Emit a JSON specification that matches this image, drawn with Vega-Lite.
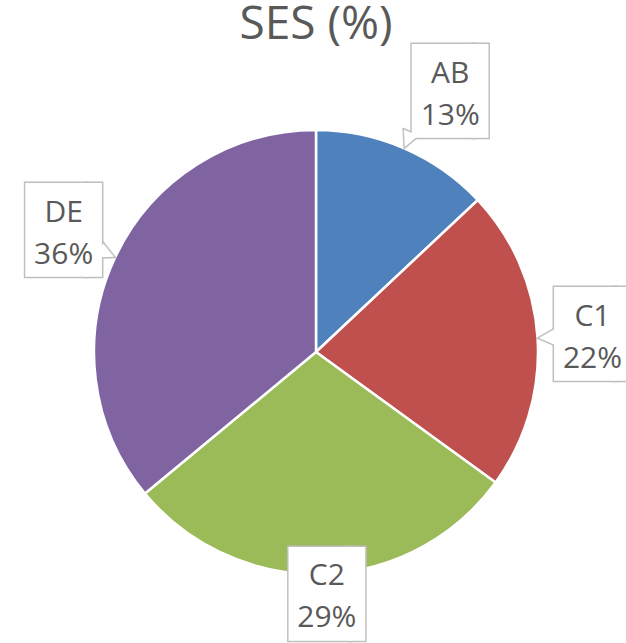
{
  "$schema": "https://vega.github.io/schema/vega-lite/v6.json",
  "width": 632,
  "height": 584,
  "autosize": {"type": "none"},
  "padding": {"top": 60, "left": 0, "right": 0, "bottom": 0},
  "background": "white",
  "title": {
    "text": "SES (%)",
    "font": "Open Sans",
    "fontSize": 46,
    "fontWeight": "normal",
    "color": "#595959",
    "anchor": "middle",
    "baseline": "alphabetic",
    "limit": 0,
    "offset": -30
  },
  "data": {
    "values": [
      {"SES": "AB", "share": 0.13},
      {"SES": "C1", "share": 0.22},
      {"SES": "C2", "share": 0.29},
      {"SES": "DE", "share": 0.36}
    ]
  },
  "encoding": {
    "theta": {"field": "share", "type": "quantitative", "stack": true},
    "order": {"field": "SES", "type": "ordinal", "sort": "ascending"}
  },
  "layer": [
    {
      "mark": {"type": "arc", "outerRadius": 222, "stroke": "white", "strokeWidth": 2.5},
      "encoding": {
        "color": {
          "field": "SES",
          "type": "nominal",
          "scale": {"domain": ["AB", "C1", "C2", "DE"], "range": ["#4F81BD", "#C0504D", "#9BBB59", "#8064A2"]},
          "legend": null
        }
      }
    },
    {
      "mark": {
        "type": "text",
        "radius": 280,
        "font": "DejaVu Sans",
        "fontSize": 79,
        "fill": "white",
        "stroke": "#BFBFBF",
        "strokeWidth": 3,
        "align": "center",
        "baseline": "middle",
        "dx": {"expr": "(datum.SES === 'AB' ? 23 : datum.SES === 'C1' ? -3 : datum.SES === 'C2' ? 2 : 1) + 23.4"},
        "dy": {"expr": "(datum.SES === 'AB' ? -4 : datum.SES === 'C1' ? 0 : datum.SES === 'C2' ? -38 : -2) + 2.7"}
      },
      "encoding": {"text": {"value": "█▎"}}
    },
    {
      "mark": {
        "type": "text",
        "radius": 226,
        "font": "DejaVu Sans",
        "fontSize": 20,
        "fill": "white",
        "stroke": "#BFBFBF",
        "strokeWidth": 3,
        "align": "center",
        "baseline": "alphabetic",
        "angle": {"expr": "180 * (datum.share_start + datum.share_end)"}
      },
      "encoding": {"text": {"value": "▼"}}
    },
    {
      "mark": {
        "type": "text",
        "radius": 280,
        "font": "DejaVu Sans",
        "fontSize": 79,
        "fill": "white",
        "align": "center",
        "baseline": "middle",
        "dx": {"expr": "(datum.SES === 'AB' ? 23 : datum.SES === 'C1' ? -3 : datum.SES === 'C2' ? 2 : 1) + 23.4"},
        "dy": {"expr": "(datum.SES === 'AB' ? -4 : datum.SES === 'C1' ? 0 : datum.SES === 'C2' ? -38 : -2) + 2.7"}
      },
      "encoding": {"text": {"value": "█▎"}}
    },
    {
      "mark": {
        "type": "text",
        "radius": 226,
        "font": "DejaVu Sans",
        "fontSize": 20,
        "fill": "white",
        "align": "center",
        "baseline": "alphabetic",
        "angle": {"expr": "180 * (datum.share_start + datum.share_end)"}
      },
      "encoding": {"text": {"value": "▼"}}
    },
    {
      "mark": {
        "type": "text",
        "radius": 280,
        "font": "Open Sans",
        "fontSize": 30,
        "letterSpacing": 1,
        "fill": "#595959",
        "align": "center",
        "baseline": "alphabetic",
        "dx": {"expr": "datum.SES === 'AB' ? 23 : datum.SES === 'C1' ? -3 : datum.SES === 'C2' ? 2 : 1"},
        "dy": {"expr": "(datum.SES === 'AB' ? -4 : datum.SES === 'C1' ? 0 : datum.SES === 'C2' ? -38 : -2) - 8.5"}
      },
      "encoding": {"text": {"field": "SES", "type": "nominal"}}
    },
    {
      "mark": {
        "type": "text",
        "radius": 280,
        "font": "Open Sans",
        "fontSize": 30,
        "letterSpacing": 1,
        "fill": "#595959",
        "align": "center",
        "baseline": "alphabetic",
        "dx": {"expr": "datum.SES === 'AB' ? 23 : datum.SES === 'C1' ? -3 : datum.SES === 'C2' ? 2 : 1"},
        "dy": {"expr": "(datum.SES === 'AB' ? -4 : datum.SES === 'C1' ? 0 : datum.SES === 'C2' ? -38 : -2) + 33.5"}
      },
      "encoding": {"text": {"field": "share", "type": "quantitative", "format": ".0%"}}
    }
  ]
}
